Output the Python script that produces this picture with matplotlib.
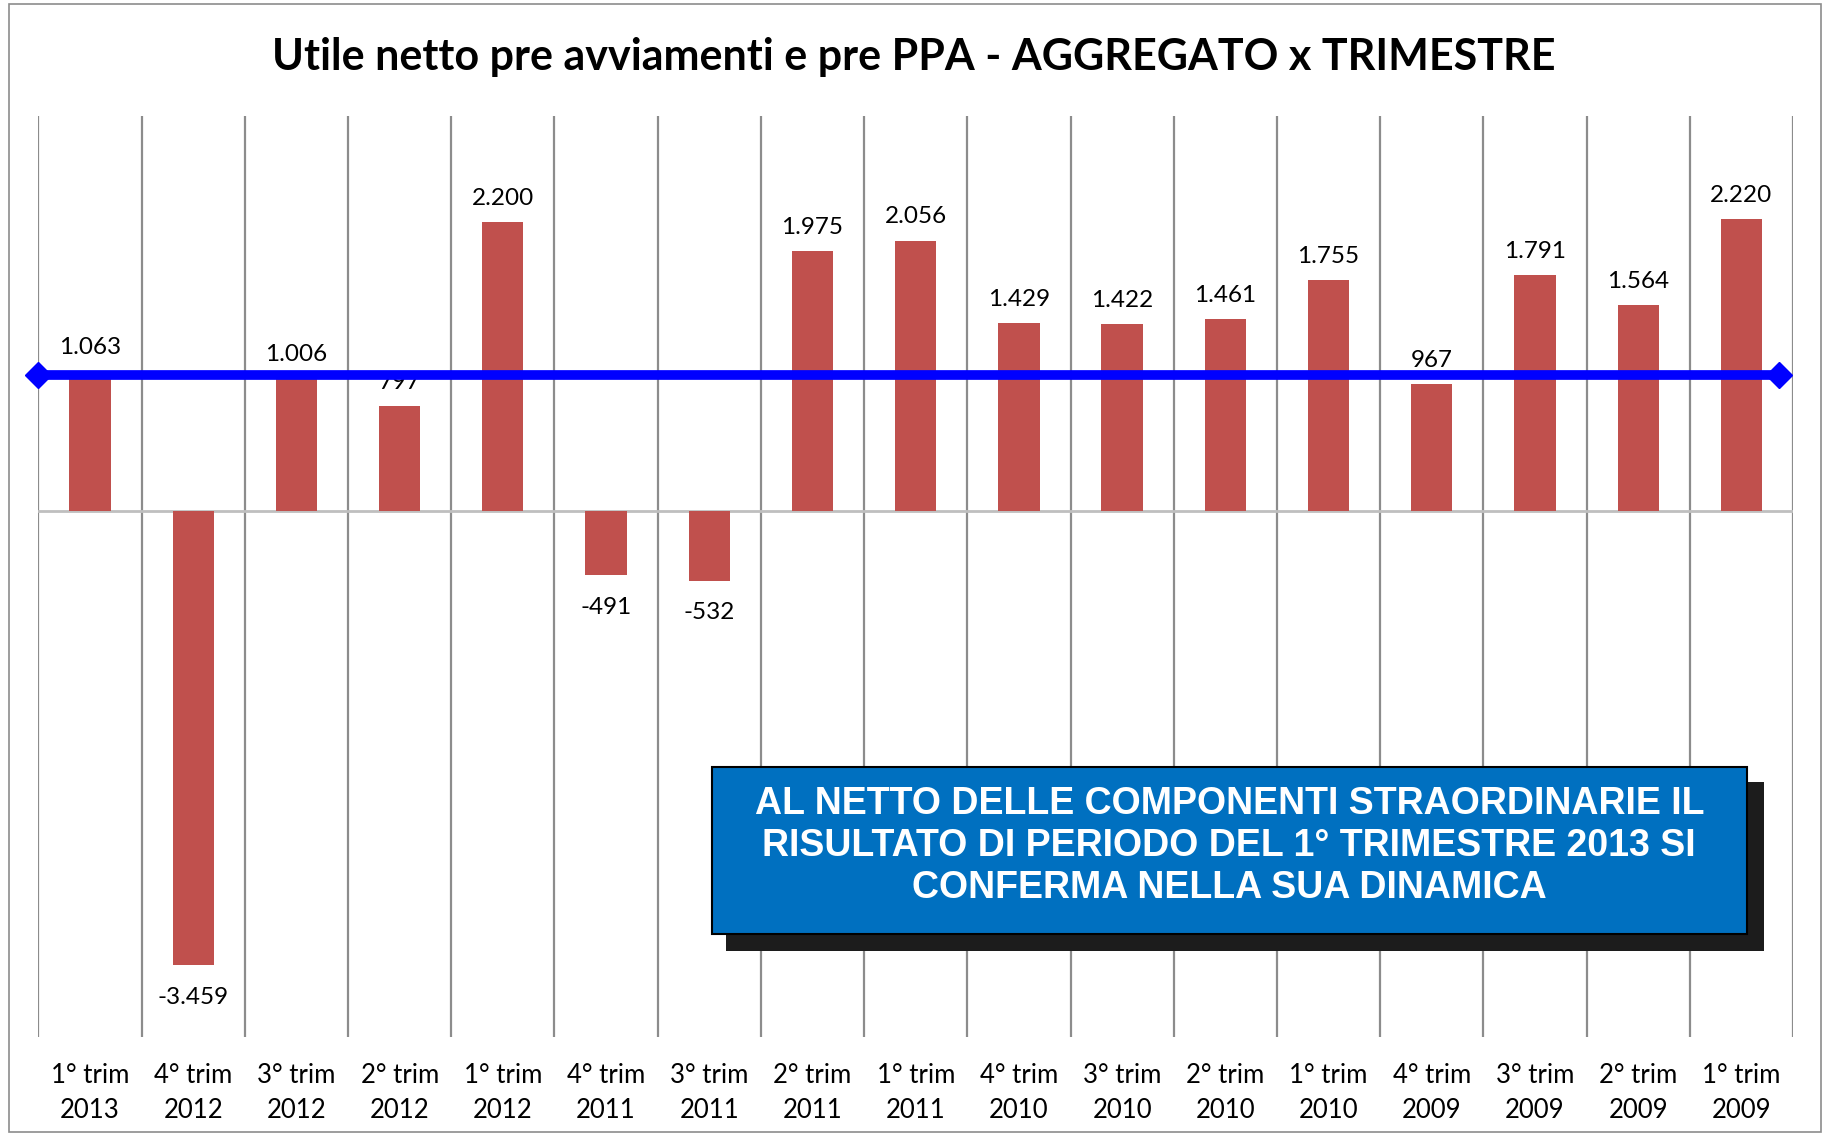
import numpy as np
import matplotlib
matplotlib.use("Agg")
import matplotlib.pyplot as plt
from matplotlib.patches import Rectangle

# ─── Data ─────────────────────────────────────────────────────
quarters = ["1° trim", "4° trim", "3° trim", "2° trim", "1° trim", "4° trim",
            "3° trim", "2° trim", "1° trim", "4° trim", "3° trim", "2° trim",
            "1° trim", "4° trim", "3° trim", "2° trim", "1° trim"]
years = ["2013", "2012", "2012", "2012", "2012", "2011", "2011", "2011",
         "2011", "2010", "2010", "2010", "2010", "2009", "2009", "2009", "2009"]
utile = [1063, -3459, 1006, 797, 2200, -491, -532, 1975, 2056,
         1429, 1422, 1461, 1755, 967, 1791, 1564, 2220]
livello_riferimento = 1035
labels = ["1.063", "-3.459", "1.006", "797", "2.200", "-491", "-532", "1.975",
          "2.056", "1.429", "1.422", "1.461", "1.755", "967", "1.791",
          "1.564", "2.220"]

title = "Utile netto pre avviamenti e pre PPA - AGGREGATO x TRIMESTRE"
box_text = ("AL NETTO DELLE COMPONENTI STRAORDINARIE IL\n"
            "RISULTATO DI PERIODO DEL 1° TRIMESTRE 2013 SI\n"
            "CONFERMA NELLA SUA DINAMICA")

# ─── Figure ───────────────────────────────────────────────────
W, H = 1826, 1136
fig = plt.figure(figsize=(W / 100, H / 100), dpi=100)

def px_box(x0, y0, x1, y1):
    """pixel box (top-left origin) -> figure fraction [l, b, w, h]"""
    return [x0 / W, 1 - y1 / H, (x1 - x0) / W, (y1 - y0) / H]

# outer chart border
fig.patches.append(Rectangle((9 / W, 1 - 1132 / H), (1821 - 9) / W, (1132 - 4) / H,
                             transform=fig.transFigure, fill=False,
                             edgecolor="#8c8c8c", lw=1.2))

ax = fig.add_axes(px_box(38.4, 116.5, 1793, 1036.5))
n = len(utile)
x = np.arange(n)

ax.bar(x, utile, width=0.4, color="#C0504D", zorder=2)
ax.vlines(np.arange(n + 1) - 0.5, -4000, 3000, color="#8c8c8c", lw=1.6, zorder=1)
ax.axhline(0, color="#bfbfbf", lw=2, zorder=1)

ax.plot([-0.5, n - 1 + 0.36], [livello_riferimento] * 2, color="#0000FF",
        lw=7, marker="D", ms=13, zorder=4, solid_capstyle="butt", clip_on=False)

for xi, v, lab in zip(x, utile, labels):
    off = 17 if v >= 0 else -23
    ax.annotate(lab, (xi, v), xytext=(0, off), textcoords="offset points",
                ha="center", va="center", fontsize=17.5, family="Lato",
                color="black", zorder=3)

ax.set_xlim(-0.5, n - 0.5)
ax.set_ylim(-4000, 3000)
ax.set_yticks([])
ax.set_xticks(x)
ax.set_xticklabels([f"{q}\n{y}" for q, y in zip(quarters, years)],
                   fontsize=18.5, family="Lato", linespacing=1.5)
ax.tick_params(axis="x", length=0, pad=19)
for s in ax.spines.values():
    s.set_visible(False)

fig.text(0.5006, 1 - 57 / H, title, ha="center", va="center",
         fontsize=31, fontweight="bold", family="Lato")

# ─── Text box with shadow ─────────────────────────────────────
sx0, sy0, sx1, sy1 = 726, 782, 1764, 951
bx0, by0, bx1, by1 = 711.5, 767, 1747, 934
fig.patches.append(Rectangle((sx0 / W, 1 - sy1 / H), (sx1 - sx0) / W, (sy1 - sy0) / H,
                             transform=fig.transFigure, facecolor="#1c1c1c",
                             edgecolor="none", zorder=10))
fig.patches.append(Rectangle((bx0 / W, 1 - by1 / H), (bx1 - bx0) / W, (by1 - by0) / H,
                             transform=fig.transFigure, facecolor="#0070C0",
                             edgecolor="black", lw=1.5, zorder=11))
fig.text((bx0 + bx1) / 2 / W, 1 - 846 / H, box_text, ha="center", va="center",
         fontsize=27, fontweight="bold", family="Liberation Sans",
         color="white", linespacing=1.2, zorder=12)

fig.savefig("out.png", dpi=100, facecolor="white")
